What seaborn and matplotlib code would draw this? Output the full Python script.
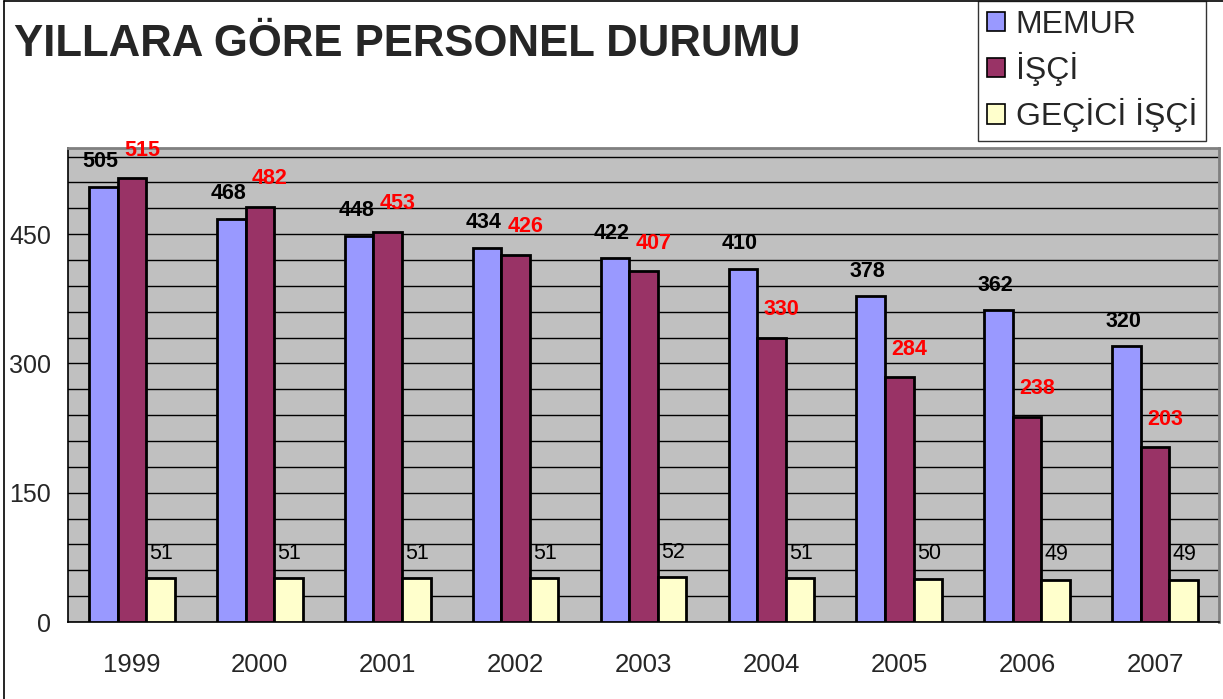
import numpy as np
import pandas as pd
import matplotlib
matplotlib.use("Agg")
import matplotlib.pyplot as plt
import seaborn as sns
from matplotlib.patches import Patch
from matplotlib.ticker import MultipleLocator
from matplotlib.lines import Line2D

years = ["1999", "2000", "2001", "2002", "2003", "2004", "2005", "2006", "2007"]
memur = [505, 468, 448, 434, 422, 410, 378, 362, 320]
isci = [515, 482, 453, 426, 407, 330, 284, 238, 203]
gecici = [51, 51, 51, 51, 52, 51, 50, 49, 49]
series = ["MEMUR", "İŞÇİ", "GEÇİCİ İŞÇİ"]
colors = ["#9999FF", "#993366", "#FFFFCC"]

df = pd.DataFrame({
    "yil": years * 3,
    "tur": [series[0]] * 9 + [series[1]] * 9 + [series[2]] * 9,
    "sayi": memur + isci + gecici,
})

sns.set_style("white")
plt.rcParams["font.family"] = ["Liberation Sans", "DejaVu Sans"]

fig = plt.figure(figsize=(12.23, 6.99), dpi=100)
ax = fig.add_axes([68 / 1223, 1 - 622 / 699, (1219 - 68) / 1223, (622 - 148) / 699])
ax.set_facecolor("#C0C0C0")

sns.barplot(data=df, x="yil", y="sayi", hue="tur", hue_order=series,
            palette=colors, width=0.67, edgecolor="black", linewidth=2,
            saturation=1, ax=ax, legend=False, zorder=3)

ax.set_xlim(-0.5, 8.5)
ax.set_ylim(0, 550)
ax.yaxis.set_major_locator(MultipleLocator(150))
ax.yaxis.set_minor_locator(MultipleLocator(30))
ax.grid(which="both", axis="y", color="black", linewidth=1, zorder=1)
ax.set_axisbelow(True)
ax.set_xlabel("")
ax.set_ylabel("")

# x ticks at category boundaries, labels centered
ax.set_xticks(np.arange(-0.5, 9, 1), minor=False)
ax.set_xticklabels([""] * 10)
ax.set_xticks(np.arange(9), minor=True)
ax.set_xticklabels(years, minor=True, fontsize=18.5)
ax.tick_params(axis="x", which="major", direction="out", length=8, width=1, color="black")
ax.tick_params(axis="x", which="minor", length=0, pad=22)
ax.tick_params(axis="y", which="major", direction="out", length=8, width=1,
               color="black", labelsize=18, pad=4)
ax.tick_params(axis="y", which="minor", length=0)

for side in ["left", "bottom"]:
    ax.spines[side].set_color("black")
    ax.spines[side].set_linewidth(1.2)
for side in ["top", "right"]:
    ax.spines[side].set_color("#808080")
    ax.spines[side].set_linewidth(2)

# value labels
for bar in ax.containers[0]:
    x = bar.get_x() + bar.get_width() / 2
    ax.annotate(f"{int(bar.get_height())}", (x, bar.get_height()), xytext=(-3, 25),
                textcoords="offset pixels", ha="center", va="center",
                fontsize=15.5, fontweight="bold", color="black", zorder=5)
for bar in ax.containers[1]:
    x = bar.get_x() + bar.get_width() / 2
    ax.annotate(f"{int(bar.get_height())}", (x, bar.get_height()), xytext=(10, 28),
                textcoords="offset pixels", ha="center", va="center",
                fontsize=15.5, fontweight="bold", color="#FF0000", zorder=5)
for bar in ax.containers[2]:
    x = bar.get_x() + bar.get_width() / 2
    ax.annotate(f"{int(bar.get_height())}", (x, bar.get_height()), xytext=(1, 25),
                textcoords="offset pixels", ha="center", va="center",
                fontsize=15.5, color="black", zorder=5)

fig.text(14 / 1223, 1 - 45 / 699, "YILLARA GÖRE PERSONEL DURUMU", fontsize=31.5,
         fontweight="bold", ha="left", va="center")

handles = [Patch(facecolor=c, edgecolor="black", linewidth=1.2) for c in colors]
leg = fig.legend(handles, series, loc="upper left",
                 bbox_to_anchor=(978 / 1223, 1 - 1 / 699), fontsize=23,
                 frameon=True, fancybox=False, edgecolor="black",
                 handlelength=0.55, handleheight=0.55, handletextpad=0.35,
                 labelspacing=0.38, borderpad=0.28, borderaxespad=0)
leg.get_frame().set_linewidth(1)

# outer border (top and left)
fig.add_artist(Line2D([4 / 1223, 4 / 1223], [0, 1 - 1 / 699], color="black", linewidth=1.2,
                      transform=fig.transFigure))
fig.add_artist(Line2D([4 / 1223, 1], [1 - 1 / 699, 1 - 1 / 699], color="black", linewidth=1.2,
                      transform=fig.transFigure))

fig.savefig("out.png", dpi=100)
